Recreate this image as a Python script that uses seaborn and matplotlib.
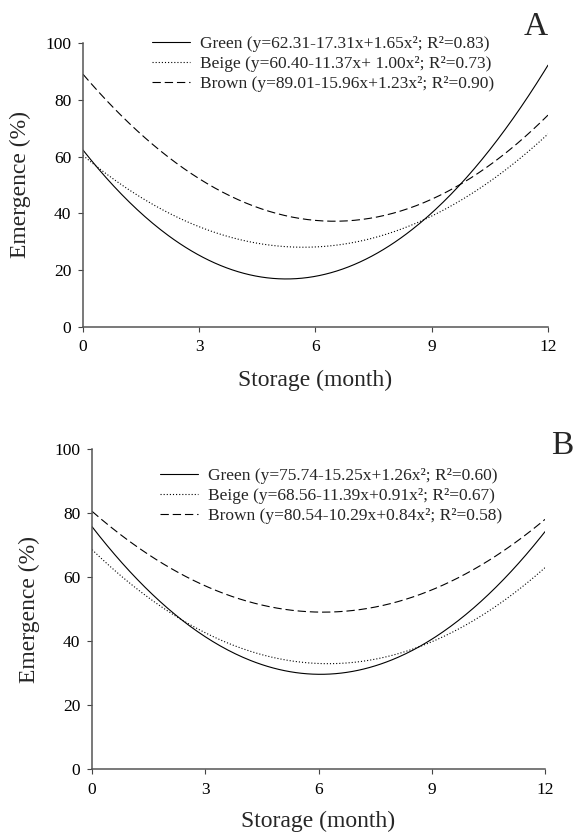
import numpy as np
import pandas as pd
import matplotlib
matplotlib.use("Agg")
import matplotlib.pyplot as plt
import seaborn as sns

sns.set_style("ticks")
plt.rcParams['font.family'] = ['Liberation Serif', 'DejaVu Serif']

# Fitted quadratic models shown in the chart (a + b*x + c*x^2)
series_names = ["Green", "Beige", "Brown"]
coef_A_a = [62.31, 60.40, 89.01]
coef_A_b = [-17.31, -11.37, -15.96]
coef_A_c = [1.65, 1.00, 1.23]
labels_A = ["Green (y=62.31-17.31x+1.65x²; R²=0.83)",
            "Beige (y=60.40-11.37x+ 1.00x²; R²=0.73)",
            "Brown (y=89.01-15.96x+1.23x²; R²=0.90)"]

coef_B_a = [75.74, 68.56, 80.54]
coef_B_b = [-15.25, -11.39, -10.29]
coef_B_c = [1.26, 0.91, 0.84]
labels_B = ["Green (y=75.74-15.25x+1.26x²; R²=0.60)",
            "Beige (y=68.56-11.39x+0.91x²; R²=0.67)",
            "Brown (y=80.54-10.29x+0.84x²; R²=0.58)"]

x_ticks = [0, 3, 6, 9, 12]
y_ticks = [0, 20, 40, 60, 80, 100]

line_styles = ["-", (0, (1, 1.8)), (0, (7.5, 3.5))]

fig = plt.figure(figsize=(5.74, 8.32), dpi=100)
axA = fig.add_axes([0.1446, 0.6070, 0.8101, 0.3413])
axB = fig.add_axes([0.1603, 0.0757, 0.7892, 0.3846])

xs = np.linspace(0, 12, 241)

def draw(ax, ca, cb, cc, labels, legend_anchor, xlab_y, ylab_x, panel, panel_xy):
    for i, name in enumerate(series_names):
        ys = ca[i] + cb[i] * xs + cc[i] * xs ** 2
        df = pd.DataFrame({"x": xs, "y": ys})
        sns.lineplot(data=df, x="x", y="y", ax=ax, color="black",
                     linewidth=0.8, linestyle=line_styles[i], label=labels[i])
    ax.set_xlim(0, 12)
    ax.set_ylim(0, 100)
    ax.set_xticks(x_ticks)
    ax.set_yticks(y_ticks)
    ax.tick_params(direction="out", length=3.5, width=0.8, labelsize=12.5,
                   colors="#444444", labelcolor="black")
    ax.tick_params(axis="x", pad=5.5)
    ax.tick_params(axis="y", pad=5.0)
    for s in ["top", "right"]:
        ax.spines[s].set_visible(False)
    for s in ["left", "bottom"]:
        ax.spines[s].set_linewidth(1.1)
        ax.spines[s].set_color("#555555")
    ax.set_xlabel("Storage (month)", fontsize=17, va="baseline")
    ax.xaxis.set_label_coords(0.5, xlab_y)
    ax.set_ylabel("Emergence (%)", fontsize=17, va="center")
    ax.yaxis.set_label_coords(ylab_x, 0.5)
    leg = ax.legend(loc="upper left", bbox_to_anchor=legend_anchor,
                    frameon=False, fontsize=12.5, handlelength=2.2,
                    handletextpad=0.55, labelspacing=0.2, borderpad=0,
                    borderaxespad=0)
    for h in leg.get_lines():
        h.set_linewidth(0.8)
    fig.text(panel_xy[0], panel_xy[1], panel, fontsize=24,
             ha="center", va="center")

draw(axA, coef_A_a, coef_A_b, coef_A_c, labels_A, (0.148, 1.024),
     -0.208, -0.135, "A", (0.934, 0.968))
draw(axB, coef_B_a, coef_B_b, coef_B_c, labels_B, (0.150, 0.94),
     -0.181, -0.139, "B", (0.979, 0.464))

fig.savefig("out.png", dpi=100)
